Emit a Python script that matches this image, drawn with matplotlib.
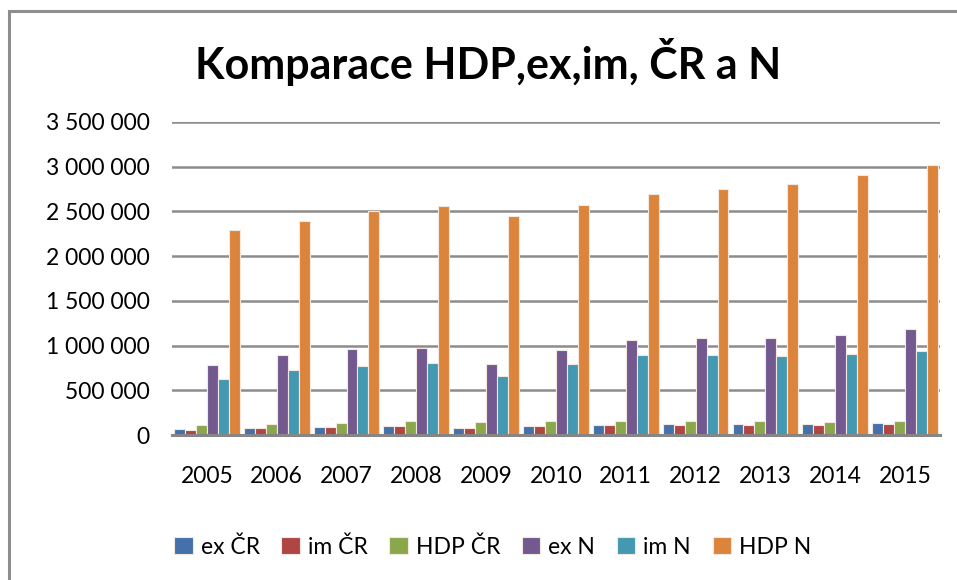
import numpy as np
import matplotlib
matplotlib.use("Agg")
import matplotlib.pyplot as plt
from matplotlib.ticker import FuncFormatter
from matplotlib.patches import Rectangle

years = ["2005", "2006", "2007", "2008", "2009", "2010",
         "2011", "2012", "2013", "2014", "2015"]

ex_cr = [67000, 81000, 94000, 100000, 81000, 102000, 115000, 119000, 119000, 123000, 137000]
im_cr = [60000, 78000, 90000, 100000, 78000, 98000, 107000, 110000, 107000, 112000, 123000]
hdp_cr = [107000, 122000, 137000, 160000, 145000, 155000, 160000, 160000, 152000, 149000, 160000]
ex_n = [785000, 893000, 963000, 978000, 796000, 949000, 1060000, 1086000, 1083000, 1119000, 1190000]
im_n = [625000, 729000, 766000, 803000, 662000, 792000, 896000, 893000, 885000, 907000, 944000]
hdp_n = [2295000, 2388000, 2503000, 2556000, 2451000, 2570000, 2693000, 2749000, 2812000, 2909000, 3017000]

series = [
    ("ex ČR", ex_cr, "#4571AA"),
    ("im ČR", im_cr, "#B04643"),
    ("HDP ČR", hdp_cr, "#8BA74C"),
    ("ex N", ex_n, "#73598F"),
    ("im N", im_n, "#4399B2"),
    ("HDP N", hdp_n, "#DD843C"),
]

FONT = ["Lato", "DejaVu Sans"]
plt.rcParams["font.family"] = FONT

fig = plt.figure(figsize=(9.57, 5.8), dpi=100)
ax = fig.add_axes([0.1797, 0.25, 0.8025, 0.5397])

x = np.arange(len(years))
w = 0.157
for i, (name, vals, col) in enumerate(series):
    ax.bar(x + (i - 2.5) * w, vals, width=w, color=col, edgecolor="#f2e8e0",
           linewidth=0.8, label=name, zorder=3)

ax.set_xlim(-0.5, len(years) - 0.5)
ax.set_ylim(0, 3500000)
ax.set_yticks(np.arange(0, 3500001, 500000))
ax.yaxis.set_major_formatter(FuncFormatter(lambda v, p: f"{int(v):,}".replace(",", " ")))
ax.set_xticks(x)
ax.set_xticklabels(years)
ax.tick_params(axis="both", length=0, labelsize=16.5, colors="black")
ax.tick_params(axis="y", pad=16)
ax.tick_params(axis="x", pad=22)
ax.grid(axis="y", color="#8c8c8c", linewidth=1.8, zorder=0)
for s in ["top", "right", "left"]:
    ax.spines[s].set_visible(False)
ax.spines["bottom"].set_color("#868686")
ax.spines["bottom"].set_linewidth(2.2)
ax.spines["bottom"].set_zorder(4)

fig.text(0.51, 0.893, "Komparace HDP,ex,im, ČR a N", ha="center", va="center",
         fontsize=31, fontweight="bold")

fig.legend(loc="center", bbox_to_anchor=(0.515, 0.057), ncol=6, frameon=False,
           fontsize=16.5, handlelength=0.8, handleheight=0.8, handletextpad=0.35,
           columnspacing=0.95)

fig.patches.append(Rectangle((9 / 957, -0.1), 1.1, 1 - 11 / 580 + 0.1,
                             transform=fig.transFigure, fill=False,
                             edgecolor="#8e8e8e", linewidth=2.2))

fig.savefig("out.png", dpi=100)
